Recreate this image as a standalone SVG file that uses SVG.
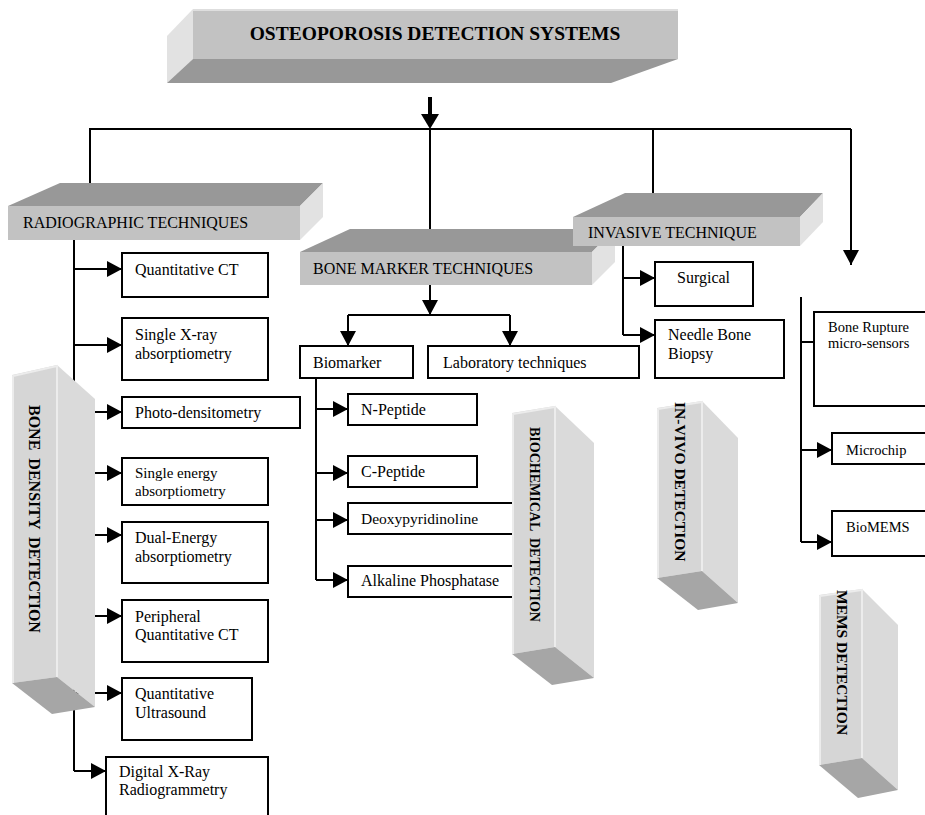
<svg xmlns="http://www.w3.org/2000/svg" width="925" height="815" viewBox="0 0 925 815">
<defs>
<marker id="ah" viewBox="0 0 15 16" refX="15" refY="8" markerWidth="15" markerHeight="16" markerUnits="userSpaceOnUse" orient="auto"><path d="M0,0 L15,8 L0,16 z" fill="#000"/></marker>
<style>
text{font-family:"Liberation Serif","Times New Roman",serif;fill:#000}
.t{font-size:16px}
.s{font-size:14.5px}
.h{font-size:16px}
.v{font-weight:bold}
.box{fill:#fff;stroke:#000;stroke-width:2}
.ln{fill:none;stroke:#000;stroke-width:2}
.ar{fill:none;stroke:#000;stroke-width:2;marker-end:url(#ah)}
.top{fill:#989898}
.front{fill:#c2c2c2}
.side{fill:#e2e2e2}
.bf{fill:#d6d6d6}
.br{fill:#dadada}
.bb{fill:#a6a6a6}
.hl{fill:none;stroke:#ececec;stroke-width:2}
</style>
</defs>
<rect width="925" height="815" fill="#fff"/>

<g id="connectors">
<rect x="428" y="97" width="4" height="20" fill="#000"/>
<polygon points="421,114 439,114 430,129" fill="#000"/>
<path class="ln" d="M90,183 V129 H851"/>
<path class="ln" d="M430,129 V229"/>
<path class="ln" d="M653,129 V193"/>
<path class="ar" d="M851,129 V265"/>
<path class="ln" d="M74,240 V771"/>
<path class="ar" d="M74,269 H122"/>
<path class="ar" d="M74,345 H122"/>
<path class="ar" d="M74,412 H122"/>
<path class="ar" d="M74,473 H122"/>
<path class="ar" d="M74,535 H122"/>
<path class="ar" d="M74,616 H122"/>
<path class="ar" d="M74,693 H122"/>
<path class="ar" d="M74,771 H106"/>
<path class="ar" d="M430,285 V315"/>
<path class="ln" d="M348,315 H510"/>
<path class="ar" d="M348,315 V346"/>
<path class="ar" d="M510,315 V346"/>
<path class="ln" d="M316,378 V580"/>
<path class="ar" d="M316,409 H348"/>
<path class="ar" d="M316,473 H348"/>
<path class="ar" d="M316,520 H348"/>
<path class="ar" d="M316,580 H348"/>
<path class="ln" d="M623,246 V335"/>
<path class="ar" d="M623,278 H655"/>
<path class="ar" d="M623,335 H655"/>
<path class="ln" d="M801,297 V542"/>
<path class="ln" d="M801,342 H814"/>
<path class="ar" d="M801,450 H832"/>
<path class="ar" d="M801,542 H832"/>
</g>

<g id="title">
<polygon class="side" points="193,9 167,36 167,83 193,59"/>
<polygon class="top" points="193,59 678,59 611,83 167,83"/>
<rect class="front" x="193" y="9" width="485" height="50"/>
<line x1="193" y1="10" x2="678" y2="10" stroke="#dedede" stroke-width="2"/>
<text x="435" y="40" text-anchor="middle" class="v" font-size="19.5">OSTEOPOROSIS DETECTION SYSTEMS</text>
</g>

<g id="radiographic">
<polygon class="top" points="8,206 60,183 323,183 300,206"/>
<rect class="front" x="8" y="206" width="292" height="34"/>
<polygon class="side" points="300,206 323,183 323,217 300,240"/>
<text x="23" y="228" class="h">RADIOGRAPHIC TECHNIQUES</text>
</g>

<g id="bone-marker">
<polygon class="top" points="300,252 350,229 615,229 592,252"/>
<rect class="front" x="300" y="252" width="292" height="33"/>
<polygon class="side" points="592,252 615,229 615,262 592,285"/>
<text x="313" y="274" class="h">BONE MARKER TECHNIQUES</text>
</g>

<g id="invasive">
<polygon class="top" points="573,217 625,193 823,193 800,217"/>
<rect class="front" x="573" y="217" width="227" height="29"/>
<polygon class="side" points="800,217 823,193 823,222 800,246"/>
<text x="588" y="238" class="h">INVASIVE TECHNIQUE</text>
</g>

<g id="quantitative-ct"><rect class="box" x="122" y="253" width="146" height="44"/><text x="135" y="275" class="t">Quantitative CT</text></g>
<g id="single-xray"><rect class="box" x="122" y="318" width="146" height="62"/><text x="135" y="340" class="t">Single X-ray</text><text x="135" y="359" class="t">absorptiometry</text></g>
<g id="photo-densitometry"><rect class="box" x="122" y="397" width="178" height="31"/><text x="135" y="418" class="t">Photo-densitometry</text></g>
<g id="single-energy"><rect class="box" x="122" y="458" width="146" height="47"/><text x="135" y="478" font-size="15">Single energy</text><text x="135" y="496" font-size="15">absorptiometry</text></g>
<g id="dual-energy"><rect class="box" x="122" y="522" width="146" height="61"/><text x="135" y="543" class="t">Dual-Energy</text><text x="135" y="562" class="t">absorptiometry</text></g>
<g id="peripheral-qct"><rect class="box" x="122" y="600" width="146" height="62"/><text x="135" y="622" class="t">Peripheral</text><text x="135" y="640" class="t">Quantitative CT</text></g>
<g id="quantitative-us"><rect class="box" x="122" y="678" width="130" height="62"/><text x="135" y="699" class="t">Quantitative</text><text x="135" y="718" class="t">Ultrasound</text></g>
<g id="digital-xray"><rect class="box" x="106" y="757" width="162" height="70"/><text x="119" y="777" class="t">Digital X-Ray</text><text x="119" y="795" class="t">Radiogrammetry</text></g>

<g id="bone-density-detection">
<polygon class="bf" points="12,375 57,365 57,677 12,683"/>
<polygon class="br" points="57,365 95,399 95,707 57,677"/>
<polygon class="bb" points="12,683 57,677 95,707 52,714"/>
<path class="hl" d="M13,683 V376 L57,366 V677"/>
<text transform="translate(29,405) rotate(90)" class="v" font-size="16" word-spacing="4">BONE DENSITY  DETECTION</text>
</g>

<g id="biomarker"><rect class="box" x="300" y="346" width="113" height="32"/><text x="313" y="368" class="t">Biomarker</text></g>
<g id="laboratory"><rect class="box" x="428" y="346" width="211" height="32"/><text x="443" y="368" class="t">Laboratory techniques</text></g>
<g id="n-peptide"><rect class="box" x="348" y="394" width="129" height="31"/><text x="361" y="415" class="t">N-Peptide</text></g>
<g id="c-peptide"><rect class="box" x="348" y="456" width="129" height="31"/><text x="361" y="477" class="t">C-Peptide</text></g>
<g id="deoxypyridinoline"><rect class="box" x="348" y="503" width="180" height="31"/><text x="361" y="524" font-size="15.5">Deoxypyridinoline</text></g>
<g id="alkaline-phosphatase"><rect class="box" x="348" y="566" width="180" height="31"/><text x="361" y="586" class="t">Alkaline Phosphatase</text></g>

<g id="biochemical-detection">
<polygon class="bf" points="512,413 555,406 555,647 512,654"/>
<polygon class="br" points="555,406 594,443 594,678 555,647"/>
<polygon class="bb" points="512,654 555,647 594,678 552,685"/>
<path class="hl" d="M513,654 V414 L555,407 V647"/>
<text transform="translate(530,427) rotate(90)" class="v" font-size="14" word-spacing="4">BIOCHEMICAL  DETECTION</text>
</g>

<g id="surgical"><rect class="box" x="655" y="262" width="98" height="44"/><text x="677" y="283" class="t">Surgical</text></g>
<g id="needle-biopsy"><rect class="box" x="655" y="320" width="129" height="58"/><text x="668" y="340" class="t">Needle Bone</text><text x="668" y="359" class="t">Biopsy</text></g>

<g id="in-vivo-detection">
<polygon class="bf" points="657,408 702,401 702,571 657,578"/>
<polygon class="br" points="702,401 738,438 738,603 702,571"/>
<polygon class="bb" points="657,578 702,571 738,603 698,610"/>
<path class="hl" d="M658,578 V409 L702,402 V571"/>
<text transform="translate(675,402) rotate(90)" class="v" font-size="15.5">IN-VIVO DETECTION</text>
</g>

<g id="bone-rupture"><rect class="box" x="814" y="312" width="130" height="94"/><text x="828" y="332" class="s">Bone Rupture</text><text x="828" y="348" class="s">micro-sensors</text></g>
<g id="microchip"><rect class="box" x="832" y="433" width="120" height="31"/><text x="846" y="455" class="s">Microchip</text></g>
<g id="biomems"><rect class="box" x="832" y="511" width="120" height="45"/><text x="846" y="532" class="s">BioMEMS</text></g>

<g id="mems-detection">
<polygon class="bf" points="819,595 862,589 862,758 819,765"/>
<polygon class="br" points="862,589 898,625 898,790 862,758"/>
<polygon class="bb" points="819,765 862,758 898,790 858,798"/>
<path class="hl" d="M820,765 V596 L862,590 V758"/>
<text transform="translate(837,590) rotate(90)" class="v" font-size="15.5">MEMS DETECTION</text>
</g>
</svg>
